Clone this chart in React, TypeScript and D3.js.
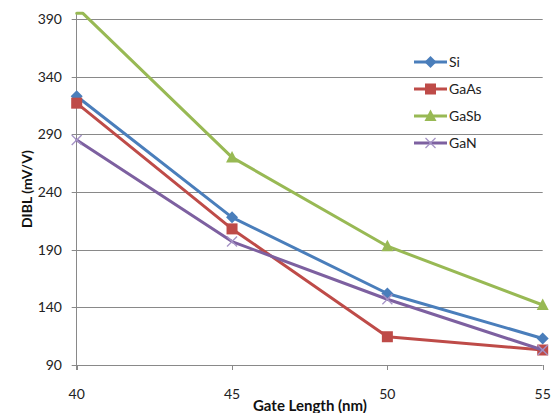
import React from "react";
import * as d3 from "d3";

const categories = [40, 45, 50, 55];
const siValues = [323, 218, 152, 113];
const gaasValues = [317, 208, 114.5, 103];
const gasbValues = [400, 270, 193, 142];
const ganValues = [285, 197, 147, 103];
const yTicks = [90, 140, 190, 240, 290, 340, 390];
const seriesNames = ["Si", "GaAs", "GaSb", "GaN"];
const seriesColors = ["#4A7EBB", "#BE4B48", "#98B954", "#7D60A0"];
const markerTypes = ["diamond", "square", "triangle", "x"];

const W = 557;
const H = 413;
const yMin = 90;
const yMax = 395;

const x = d3.scaleLinear().domain([40, 55]).range([76.7, 542.7]);
const y = d3.scaleLinear().domain([yMin, yMax]).range([365, 13.2]);

function clampedPoints(values: number[]): [number, number][] {
  const out: [number, number][] = [];
  values.forEach((v, i) => {
    const c = categories[i];
    if (i > 0) {
      const pv = values[i - 1];
      const pc = categories[i - 1];
      if ((pv > yMax) !== (v > yMax)) {
        const t = (yMax - pv) / (v - pv);
        out.push([pc + t * (c - pc), yMax]);
      }
    }
    out.push([c, Math.min(v, yMax)]);
  });
  return out;
}

function Marker({ type, cx, cy, color }: { type: string; cx: number; cy: number; color: string }) {
  if (type === "diamond") {
    return <path d={`M${cx},${cy - 6} L${cx + 6},${cy} L${cx},${cy + 6} L${cx - 6},${cy} Z`} fill={color} />;
  }
  if (type === "square") {
    return <rect x={cx - 5.5} y={cy - 5.5} width={11} height={11} fill={color} />;
  }
  if (type === "triangle") {
    return <path d={`M${cx},${cy - 6.5} L${cx + 6},${cy + 5} L${cx - 6},${cy + 5} Z`} fill={color} />;
  }
  return (
    <g stroke="#A593C6" strokeWidth={1.3}>
      <line x1={cx - 5} y1={cy - 5} x2={cx + 5} y2={cy + 5} />
      <line x1={cx - 5} y1={cy + 5} x2={cx + 5} y2={cy - 5} />
    </g>
  );
}

export default function App() {
  const allSeries = [siValues, gaasValues, gasbValues, ganValues];
  const line = d3
    .line<[number, number]>()
    .x((d) => x(d[0]))
    .y((d) => y(d[1]));
  const font = "Lato, 'Open Sans', sans-serif";
  const legendX = 414;
  const legendY0 = 62;
  const legendStep = 27;

  return (
    <svg
      width={W}
      height={H}
      style={{ position: "absolute", left: 0, top: 0, background: "#fff" }}
      fontFamily={font}
    >
      <rect x={0} y={0} width={W} height={H} fill="#fff" />
      {/* gridlines */}
      {yTicks.map((t) => (
        <line
          key={t}
          x1={71.7}
          x2={x(55)}
          y1={Math.round(y(t)) + 0.5}
          y2={Math.round(y(t)) + 0.5}
          stroke="#898989"
          strokeWidth={1}
        />
      ))}
      {/* y axis */}
      <line x1={76.5} x2={76.5} y1={y(yMax)} y2={370} stroke="#898989" strokeWidth={1} />
      {/* x ticks */}
      {categories.map((c) => (
        <line key={c} x1={Math.round(x(c)) + 0.5} x2={Math.round(x(c)) + 0.5} y1={365} y2={370} stroke="#898989" strokeWidth={1} />
      ))}
      {/* y tick labels */}
      {yTicks.map((t) => (
        <text key={t} x={62} y={y(t)} dy="0.35em" textAnchor="end" fontSize={14} fill="#222">
          {t}
        </text>
      ))}
      {/* x tick labels */}
      {categories.map((c) => (
        <text key={c} x={x(c)} y={399} textAnchor="middle" fontSize={14} fill="#222">
          {c}
        </text>
      ))}
      {/* axis titles */}
      <text x={310} y={411} textAnchor="middle" fontSize={15} fontWeight="bold" fill="#111">
        Gate Length (nm)
      </text>
      <text
        transform={`translate(32,${(y(yMax) + 365) / 2}) rotate(-90)`}
        textAnchor="middle"
        fontSize={14}
        fontWeight="bold"
        fill="#111"
      >
        DIBL (mV/V)
      </text>
      {/* series */}
      {allSeries.map((vals, si) => (
        <g key={si}>
          <path
            d={line(clampedPoints(vals)) || ""}
            fill="none"
            stroke={seriesColors[si]}
            strokeWidth={3}
            strokeLinejoin="round"
            strokeLinecap="round"
          />
          {vals.map((v, i) =>
            v <= yMax ? (
              <Marker key={i} type={markerTypes[si]} cx={x(categories[i])} cy={y(v)} color={seriesColors[si]} />
            ) : null
          )}
        </g>
      ))}
      {/* legend */}
      {seriesNames.map((name, i) => {
        const ly = legendY0 + i * legendStep;
        return (
          <g key={name}>
            <line x1={legendX} x2={legendX + 33} y1={ly} y2={ly} stroke={seriesColors[i]} strokeWidth={3} />
            <Marker type={markerTypes[i]} cx={legendX + 16.5} cy={ly} color={seriesColors[i]} />
            <text x={legendX + 35} y={ly} dy="0.35em" fontSize={14} fill="#222">
              {name}
            </text>
          </g>
        );
      })}
    </svg>
  );
}
